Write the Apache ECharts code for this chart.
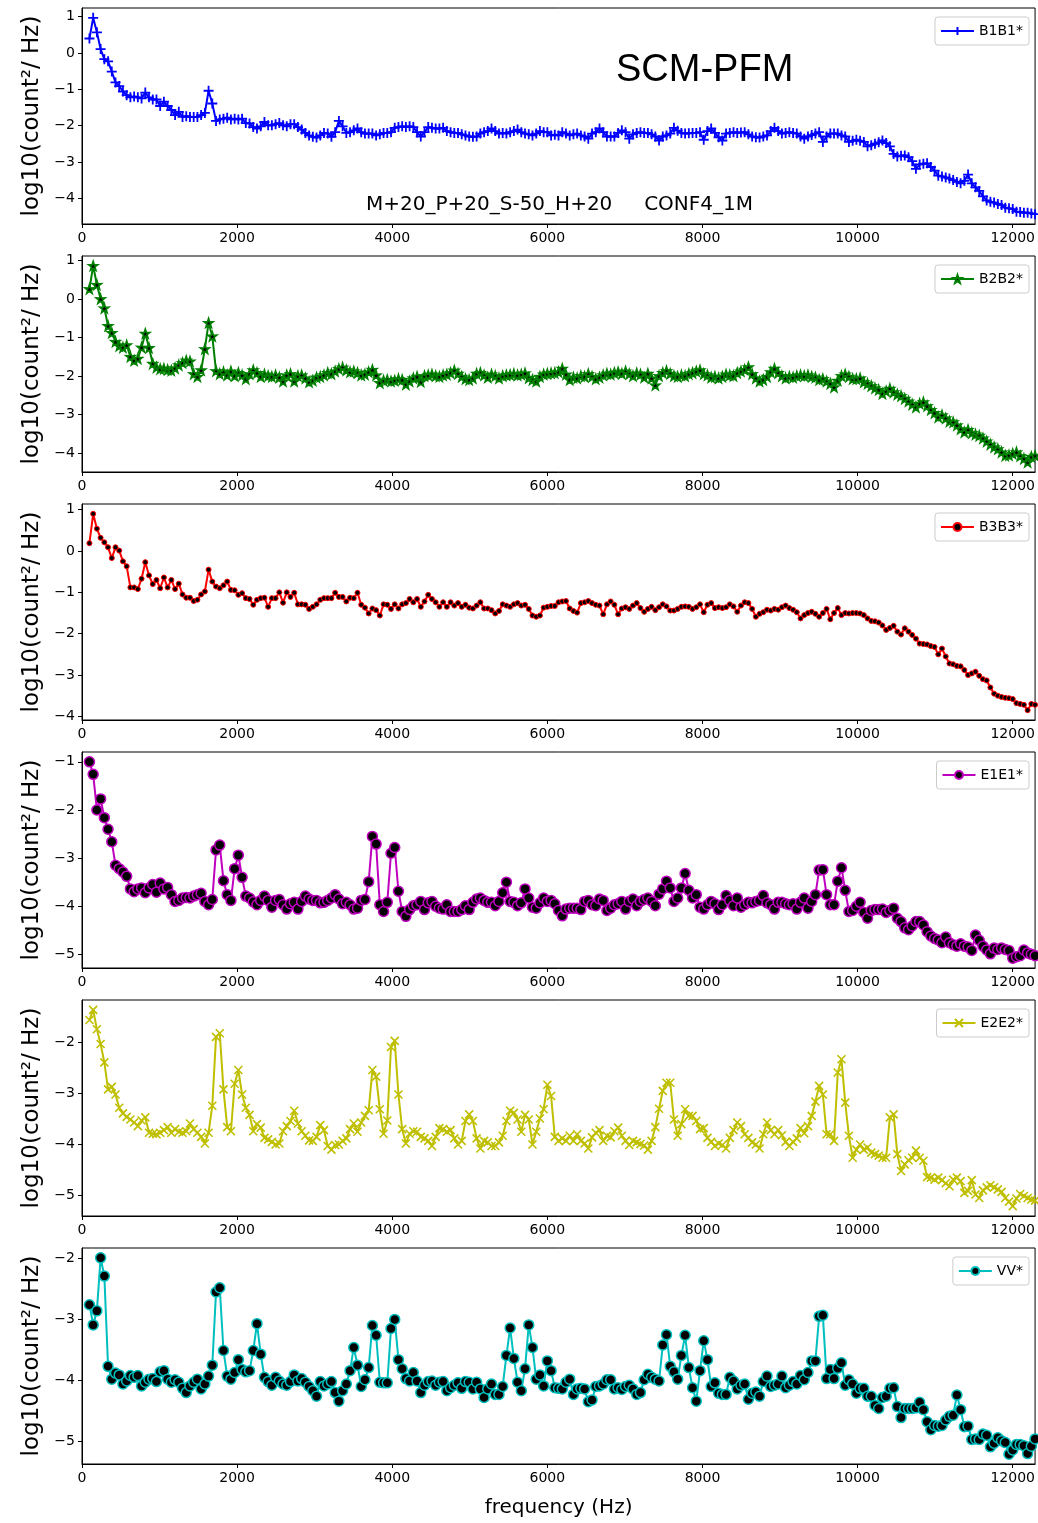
<!DOCTYPE html>
<html>
<head>
<meta charset="utf-8">
<script src="https://cdn.jsdelivr.net/npm/echarts@6/dist/echarts.min.js"></script>
<style>
  html, body { margin: 0; padding: 0; background: #ffffff; }
  #chart { width: 1038px; height: 1523px; }
</style>
</head>
<body>
<div id="chart"></div>
<script>
// Spectral bins: first bin centre and bin width (Hz), upper plot limit.
const FIRST_BIN_HZ = 96;
const BIN_WIDTH_HZ = 48;
const F_MAX = 12288;

const X_TICKS = [0, 2000, 4000, 6000, 8000, 10000, 12000];

// log10 power spectral densities, one value per bin.
const B1B1 = [
  0.40, 0.97, 0.57, 0.11, -0.17, -0.23, -0.51, -0.81, -0.91, -1.06,
  -1.16, -1.22, -1.20, -1.22, -1.25, -1.09, -1.22, -1.28, -1.28, -1.46,
  -1.34, -1.46, -1.57, -1.71, -1.62, -1.76, -1.74, -1.76, -1.76, -1.76,
  -1.71, -1.65, -1.04, -1.39, -1.87, -1.83, -1.81, -1.78, -1.83, -1.81,
  -1.83, -1.81, -1.93, -1.94, -2.04, -2.08, -2.02, -1.90, -1.99, -1.99,
  -1.96, -1.93, -1.99, -2.02, -1.96, -1.96, -2.04, -2.11, -2.20, -2.27,
  -2.31, -2.33, -2.27, -2.20, -2.22, -2.31, -2.18, -1.87, -2.02, -2.20,
  -2.18, -2.13, -2.08, -2.18, -2.22, -2.22, -2.22, -2.27, -2.24, -2.20,
  -2.20, -2.18, -2.06, -2.04, -2.02, -2.04, -2.02, -2.04, -2.18, -2.30,
  -2.18, -2.04, -2.06, -2.08, -2.08, -2.06, -2.15, -2.18, -2.20, -2.20,
  -2.24, -2.27, -2.30, -2.31, -2.30, -2.22, -2.18, -2.15, -2.08, -2.15,
  -2.22, -2.20, -2.22, -2.18, -2.15, -2.11, -2.18, -2.22, -2.24, -2.27,
  -2.22, -2.15, -2.18, -2.18, -2.27, -2.25, -2.27, -2.18, -2.22, -2.27,
  -2.24, -2.22, -2.27, -2.30, -2.36, -2.22, -2.18, -2.08, -2.18, -2.30,
  -2.30, -2.30, -2.20, -2.13, -2.18, -2.36, -2.24, -2.20, -2.18, -2.20,
  -2.20, -2.24, -2.30, -2.41, -2.30, -2.27, -2.22, -2.06, -2.14, -2.20,
  -2.22, -2.21, -2.20, -2.20, -2.18, -2.39, -2.15, -2.08, -2.20, -2.32,
  -2.41, -2.22, -2.20, -2.18, -2.20, -2.19, -2.18, -2.24, -2.30, -2.32,
  -2.33, -2.30, -2.27, -2.15, -2.06, -2.15, -2.22, -2.20, -2.18, -2.20,
  -2.22, -2.30, -2.36, -2.30, -2.26, -2.22, -2.18, -2.45, -2.30, -2.22,
  -2.22, -2.22, -2.27, -2.30, -2.45, -2.42, -2.39, -2.42, -2.45, -2.57,
  -2.54, -2.50, -2.46, -2.41, -2.48, -2.57, -2.78, -2.85, -2.83, -2.82,
  -2.87, -2.98, -3.19, -3.07, -3.05, -3.04, -3.14, -3.24, -3.38, -3.40,
  -3.43, -3.46, -3.50, -3.55, -3.59, -3.52, -3.35, -3.59, -3.70, -3.80,
  -3.95, -4.06, -4.10, -4.12, -4.16, -4.19, -4.26, -4.28, -4.30, -4.37,
  -4.38, -4.40, -4.40, -4.42, -4.44
];

const B2B2 = [
  0.26, 0.86, 0.37, 0.00, -0.24, -0.70, -0.88, -1.11, -1.22, -1.26,
  -1.20, -1.50, -1.60, -1.55, -1.26, -0.90, -1.27, -1.68, -1.78, -1.82,
  -1.81, -1.84, -1.86, -1.80, -1.72, -1.66, -1.60, -1.62, -1.95, -2.02,
  -1.85, -1.30, -0.62, -0.97, -1.87, -1.95, -1.90, -1.98, -1.88, -2.00,
  -1.92, -1.98, -2.08, -1.95, -1.85, -1.92, -2.02, -1.96, -2.00, -2.02,
  -1.98, -2.04, -2.14, -1.98, -1.95, -2.14, -2.00, -1.98, -2.06, -2.16,
  -2.12, -2.04, -2.02, -1.98, -1.92, -1.95, -1.88, -1.82, -1.78, -1.85,
  -1.90, -1.88, -1.92, -1.98, -1.96, -1.90, -1.84, -1.98, -2.18, -2.12,
  -2.10, -2.14, -2.12, -2.08, -2.10, -2.22, -2.14, -2.06, -2.02, -2.15,
  -2.00, -1.98, -1.96, -2.00, -2.02, -1.98, -1.96, -1.92, -1.86, -1.94,
  -2.02, -2.08, -2.10, -2.06, -1.94, -1.92, -1.98, -2.04, -1.96, -2.00,
  -2.06, -2.00, -1.98, -1.97, -1.95, -1.98, -1.96, -1.93, -2.05, -2.10,
  -2.14, -2.02, -1.96, -1.94, -1.93, -1.92, -1.90, -1.81, -1.96, -2.10,
  -2.04, -2.06, -2.00, -2.02, -1.95, -2.02, -2.08, -2.04, -1.98, -1.94,
  -1.96, -1.92, -1.90, -1.94, -1.88, -1.95, -2.00, -1.93, -1.96, -2.04,
  -1.94, -2.06, -2.24, -2.00, -1.92, -1.87, -1.94, -2.00, -2.02, -1.98,
  -2.00, -1.95, -1.92, -1.88, -1.85, -1.95, -1.98, -2.04, -2.02, -2.06,
  -2.02, -1.96, -1.98, -2.00, -1.92, -1.88, -1.84, -1.77, -1.95, -2.06,
  -2.14, -2.10, -2.02, -1.90, -1.81, -1.92, -2.00, -2.06, -2.02, -2.04,
  -2.00, -1.98, -2.00, -1.98, -2.02, -2.04, -2.10, -2.08, -2.14, -2.20,
  -2.29, -2.12, -2.00, -1.96, -2.02, -2.08, -2.08, -2.06, -2.16, -2.20,
  -2.26, -2.32, -2.36, -2.46, -2.40, -2.33, -2.42, -2.48, -2.52, -2.59,
  -2.66, -2.74, -2.81, -2.72, -2.68, -2.78, -2.88, -2.96, -3.07, -3.02,
  -3.10, -3.18, -3.20, -3.28, -3.38, -3.46, -3.40, -3.48, -3.52, -3.55,
  -3.62, -3.70, -3.78, -3.85, -3.90, -3.98, -4.07, -4.06, -4.02, -3.98,
  -4.08, -4.15, -4.24, -4.10, -4.07
];

const B3B3 = [
  0.19, 0.90, 0.54, 0.32, 0.21, 0.09, -0.17, 0.09, 0.01, -0.25,
  -0.37, -0.88, -0.88, -0.92, -0.67, -0.27, -0.59, -0.80, -0.70, -0.90,
  -0.64, -0.88, -0.70, -0.92, -0.79, -1.05, -1.13, -1.13, -1.21, -1.18,
  -1.05, -0.98, -0.45, -0.74, -0.86, -0.90, -0.83, -0.74, -0.94, -0.95,
  -1.06, -1.02, -1.14, -1.16, -1.30, -1.18, -1.14, -1.13, -1.35, -1.14,
  -1.14, -1.00, -1.25, -1.00, -1.11, -1.01, -1.29, -1.29, -1.30, -1.40,
  -1.35, -1.29, -1.18, -1.14, -1.14, -1.14, -1.01, -1.11, -1.11, -1.22,
  -1.13, -1.14, -1.01, -1.30, -1.37, -1.51, -1.39, -1.43, -1.56, -1.29,
  -1.30, -1.40, -1.29, -1.39, -1.29, -1.26, -1.16, -1.24, -1.16, -1.35,
  -1.22, -1.06, -1.16, -1.24, -1.35, -1.24, -1.35, -1.24, -1.32, -1.26,
  -1.35, -1.30, -1.37, -1.39, -1.32, -1.24, -1.39, -1.39, -1.43, -1.51,
  -1.45, -1.29, -1.32, -1.35, -1.29, -1.26, -1.32, -1.30, -1.40, -1.56,
  -1.59, -1.56, -1.37, -1.35, -1.33, -1.33, -1.24, -1.22, -1.21, -1.39,
  -1.45, -1.49, -1.26, -1.24, -1.21, -1.26, -1.30, -1.32, -1.53, -1.29,
  -1.22, -1.30, -1.53, -1.39, -1.36, -1.40, -1.32, -1.26, -1.38, -1.47,
  -1.40, -1.35, -1.43, -1.36, -1.29, -1.34, -1.44, -1.44, -1.40, -1.35,
  -1.34, -1.35, -1.40, -1.36, -1.29, -1.48, -1.30, -1.26, -1.38, -1.36,
  -1.38, -1.36, -1.29, -1.34, -1.47, -1.32, -1.24, -1.26, -1.40, -1.59,
  -1.52, -1.48, -1.42, -1.44, -1.40, -1.42, -1.36, -1.32, -1.38, -1.42,
  -1.48, -1.63, -1.55, -1.50, -1.47, -1.52, -1.59, -1.50, -1.40, -1.65,
  -1.50, -1.38, -1.55, -1.50, -1.51, -1.50, -1.50, -1.51, -1.55, -1.63,
  -1.69, -1.70, -1.73, -1.80, -1.91, -1.86, -1.81, -1.95, -2.02, -1.87,
  -1.95, -2.03, -2.12, -2.24, -2.25, -2.26, -2.30, -2.32, -2.50, -2.36,
  -2.55, -2.72, -2.74, -2.78, -2.79, -2.88, -3.00, -2.96, -2.92, -3.02,
  -3.10, -3.13, -3.30, -3.45, -3.50, -3.53, -3.55, -3.56, -3.58, -3.68,
  -3.70, -3.72, -3.85, -3.70, -3.72
];

const E1E1 = [
  -1.00, -1.26, -2.00, -1.77, -2.16, -2.40, -2.66, -3.15, -3.22, -3.29,
  -3.38, -3.64, -3.70, -3.64, -3.62, -3.72, -3.62, -3.55, -3.71, -3.52,
  -3.64, -3.61, -3.76, -3.90, -3.88, -3.83, -3.82, -3.83, -3.79, -3.76,
  -3.73, -3.90, -3.97, -3.86, -2.83, -2.73, -3.47, -3.76, -3.88, -3.22,
  -2.94, -3.40, -3.79, -3.83, -3.91, -3.97, -3.88, -3.79, -3.88, -4.02,
  -3.88, -3.86, -3.97, -4.06, -3.95, -3.92, -4.06, -3.90, -3.79, -3.85,
  -3.88, -3.88, -3.93, -3.92, -3.88, -3.83, -3.76, -3.85, -3.95, -3.92,
  -3.97, -4.06, -4.04, -3.88, -3.86, -3.49, -2.55, -2.71, -3.97, -4.11,
  -3.92, -2.90, -2.78, -3.69, -4.11, -4.21, -4.07, -3.99, -3.97, -3.90,
  -4.07, -3.93, -3.90, -4.00, -4.04, -4.06, -3.97, -4.11, -4.11, -4.11,
  -4.07, -3.99, -4.07, -3.92, -3.85, -3.83, -3.88, -3.92, -3.92, -3.99,
  -3.90, -3.72, -3.50, -3.90, -3.92, -3.99, -3.93, -3.64, -3.83, -4.02,
  -4.04, -3.93, -3.83, -3.90, -3.88, -3.95, -4.09, -4.20, -4.06, -4.04,
  -4.04, -4.04, -4.07, -3.90, -3.88, -3.97, -3.99, -3.85, -3.88, -4.09,
  -4.04, -3.97, -3.95, -3.90, -4.06, -3.90, -3.85, -3.99, -3.90, -3.86,
  -3.83, -3.90, -3.99, -3.75, -3.64, -3.48, -3.62, -3.90, -3.83, -3.62,
  -3.32, -3.67, -3.83, -3.76, -4.02, -4.06, -3.97, -3.90, -3.95, -4.07,
  -3.97, -3.78, -3.88, -3.99, -3.83, -4.02, -3.97, -3.92, -3.93, -3.90,
  -3.88, -3.78, -3.93, -3.97, -4.06, -3.92, -3.92, -3.95, -3.97, -3.95,
  -4.06, -3.92, -3.83, -4.04, -3.90, -3.76, -3.25, -3.24, -3.76, -3.97,
  -3.97, -3.48, -3.20, -3.67, -4.11, -4.09, -4.00, -3.92, -4.13, -4.25,
  -4.09, -4.07, -4.07, -4.06, -4.13, -4.09, -4.04, -4.25, -4.32, -4.45,
  -4.49, -4.41, -4.32, -4.32, -4.39, -4.53, -4.62, -4.67, -4.70, -4.76,
  -4.64, -4.76, -4.80, -4.83, -4.78, -4.83, -4.85, -4.92, -4.60, -4.71,
  -4.83, -4.91, -4.99, -4.87, -4.90, -4.87, -4.90, -4.92, -5.08, -5.05,
  -5.03, -4.91, -4.97, -5.00, -5.03
];

const E2E2 = [
  -1.56, -1.36, -1.74, -2.03, -2.39, -2.92, -2.87, -3.02, -3.28, -3.39,
  -3.46, -3.51, -3.57, -3.64, -3.53, -3.47, -3.77, -3.79, -3.80, -3.77,
  -3.72, -3.66, -3.77, -3.70, -3.75, -3.77, -3.74, -3.59, -3.70, -3.77,
  -3.85, -3.98, -3.77, -3.24, -1.89, -1.82, -2.92, -3.66, -3.74, -2.81,
  -2.54, -3.02, -3.28, -3.42, -3.74, -3.60, -3.67, -3.87, -3.90, -3.95,
  -4.00, -3.98, -3.74, -3.64, -3.54, -3.34, -3.59, -3.74, -3.83, -3.92,
  -3.93, -3.85, -3.62, -3.72, -4.03, -4.10, -4.01, -4.00, -3.93, -3.88,
  -3.70, -3.59, -3.75, -3.57, -3.44, -3.33, -2.54, -2.67, -3.31, -3.79,
  -3.53, -2.09, -1.97, -3.02, -3.70, -3.98, -3.79, -3.74, -3.75, -3.85,
  -3.88, -3.93, -4.03, -3.85, -3.68, -3.70, -3.75, -3.72, -3.88, -4.00,
  -3.93, -3.54, -3.41, -3.54, -3.88, -4.08, -3.93, -3.96, -4.03, -4.03,
  -3.96, -3.83, -3.54, -3.34, -3.38, -3.51, -3.75, -3.42, -3.51, -4.00,
  -3.75, -3.49, -3.31, -2.83, -3.05, -3.85, -3.93, -3.88, -3.93, -3.83,
  -3.93, -3.80, -3.93, -3.98, -4.08, -3.86, -3.77, -3.72, -3.93, -3.83,
  -3.86, -3.74, -3.67, -3.83, -3.93, -4.01, -3.93, -3.96, -3.99, -4.02,
  -4.10, -3.93, -3.66, -3.30, -2.95, -2.79, -2.79, -3.51, -3.83, -3.60,
  -3.31, -3.44, -3.44, -3.54, -3.70, -3.68, -3.87, -3.95, -4.03, -3.98,
  -4.01, -4.08, -3.87, -3.72, -3.57, -3.64, -3.80, -3.87, -3.96, -4.00,
  -4.08, -3.80, -3.57, -3.72, -3.80, -3.72, -3.82, -3.95, -4.03, -3.95,
  -3.88, -3.68, -3.78, -3.64, -3.44, -3.16, -2.85, -3.02, -3.80, -3.80,
  -3.93, -2.59, -2.33, -3.18, -3.83, -4.26, -4.10, -4.00, -4.10, -4.06,
  -4.16, -4.19, -4.22, -4.26, -4.26, -3.47, -3.41, -4.19, -4.52, -4.39,
  -4.31, -4.26, -4.12, -4.26, -4.32, -4.64, -4.65, -4.69, -4.65, -4.70,
  -4.76, -4.82, -4.69, -4.65, -4.72, -4.95, -4.91, -4.70, -4.98, -5.05,
  -4.90, -4.84, -4.80, -4.84, -4.88, -4.93, -5.05, -5.12, -5.21, -5.06,
  -4.97, -5.01, -5.05, -5.08, -5.10
];

const VV = [
  -2.76, -3.09, -2.86, -1.99, -2.29, -3.77, -3.98, -3.88, -3.91, -4.06,
  -4.01, -3.92, -3.95, -3.92, -4.09, -4.03, -3.98, -3.97, -4.02, -3.86,
  -3.84, -3.98, -4.03, -3.99, -4.03, -4.13, -4.20, -4.09, -4.03, -3.98,
  -4.14, -4.06, -3.93, -3.75, -2.55, -2.48, -3.51, -3.93, -3.98, -3.87,
  -3.66, -3.82, -3.86, -3.84, -3.51, -3.07, -3.57, -3.95, -4.02, -4.08,
  -3.95, -4.01, -4.06, -4.08, -4.02, -3.91, -4.01, -3.97, -4.03, -4.10,
  -4.17, -4.26, -4.02, -4.09, -4.06, -4.02, -4.20, -4.34, -4.17, -4.06,
  -3.84, -3.46, -3.75, -4.10, -3.99, -3.79, -3.10, -3.26, -4.03, -4.04,
  -4.04, -3.15, -3.00, -3.66, -3.81, -3.97, -4.01, -3.87, -4.01, -4.20,
  -4.08, -4.02, -4.01, -4.08, -4.03, -4.02, -4.17, -4.12, -4.08, -4.04,
  -4.13, -4.02, -4.03, -4.14, -4.03, -4.14, -4.28, -4.14, -4.06, -4.23,
  -4.23, -4.10, -3.59, -3.14, -3.64, -4.03, -4.17, -3.81, -3.09, -3.46,
  -3.98, -3.91, -4.09, -3.68, -3.84, -4.12, -4.13, -4.14, -4.03, -3.98,
  -4.23, -4.14, -4.13, -4.14, -4.35, -4.32, -4.10, -4.09, -4.06, -3.99,
  -3.99, -4.14, -4.12, -4.15, -4.10, -4.08, -4.14, -4.23, -4.20, -3.99,
  -3.90, -3.95, -3.98, -4.01, -3.42, -3.25, -3.77, -3.86, -3.98, -3.59,
  -3.26, -3.79, -4.12, -4.34, -3.84, -3.35, -3.66, -4.10, -4.04, -4.21,
  -4.23, -4.23, -3.95, -4.01, -4.14, -4.08, -4.06, -4.31, -4.21, -4.19,
  -4.26, -4.02, -3.93, -4.10, -4.08, -4.06, -3.93, -4.12, -4.08, -4.02,
  -4.06, -3.92, -3.99, -3.87, -3.68, -3.68, -2.95, -2.93, -3.97, -3.82,
  -3.97, -3.80, -3.71, -4.08, -3.99, -4.06, -4.21, -4.13, -4.13, -4.26,
  -4.26, -4.41, -4.46, -4.28, -4.26, -4.13, -4.12, -4.43, -4.61, -4.46,
  -4.46, -4.46, -4.45, -4.36, -4.48, -4.68, -4.81, -4.74, -4.75, -4.74,
  -4.65, -4.59, -4.57, -4.24, -4.48, -4.76, -4.75, -4.97, -4.96, -4.97,
  -4.88, -4.90, -5.09, -5.03, -4.94, -4.99, -5.02, -5.21, -5.14, -5.05,
  -5.05, -5.07, -5.20, -5.08, -4.96
];

// y tick labels of each panel
const Y_TICKS_B1B1 = [1, 0, -1, -2, -3, -4];
const Y_TICKS_B2B2 = [1, 0, -1, -2, -3, -4];
const Y_TICKS_B3B3 = [1, 0, -1, -2, -3, -4];
const Y_TICKS_E1E1 = [-1, -2, -3, -4, -5];
const Y_TICKS_E2E2 = [-2, -3, -4, -5];
const Y_TICKS_VV = [-2, -3, -4, -5];

const SERIES_NAMES = ['B1B1*', 'B2B2*', 'B3B3*', 'E1E1*', 'E2E2*', 'VV*'];

// marker shapes ('+' and 'x' are stroked, the star is filled)
const PLUS_PATH = 'path://M5,0L5,10M0,5L10,5';
const CROSS_PATH = 'path://M0,0L10,10M10,0L0,10';
const STAR_PATH = 'path://M50,0L61.8,35.3L97.6,34.5L69.1,56.2L79.4,90.5L50,70L20.6,90.5L30.9,56.2L2.4,34.5L38.2,35.3Z';

const FONT = 'DejaVu Sans';

const PANELS = [
  { name: SERIES_NAMES[0], values: B1B1, ticks: Y_TICKS_B1B1, color: '#0000ff',
    symbol: PLUS_PATH, symbolSize: 10, fill: 'rgba(0,0,0,0)', border: 1.8 },
  { name: SERIES_NAMES[1], values: B2B2, ticks: Y_TICKS_B2B2, color: '#008000',
    symbol: STAR_PATH, symbolSize: 9, fill: '#000000', border: 1.6 },
  { name: SERIES_NAMES[2], values: B3B3, ticks: Y_TICKS_B3B3, color: '#ff0000',
    symbol: 'circle', symbolSize: 5, fill: '#000000', border: 1 },
  { name: SERIES_NAMES[3], values: E1E1, ticks: Y_TICKS_E1E1, color: '#bf00bf',
    symbol: 'circle', symbolSize: 10, fill: '#000000', border: 1.5 },
  { name: SERIES_NAMES[4], values: E2E2, ticks: Y_TICKS_E2E2, color: '#bfbf00',
    symbol: CROSS_PATH, symbolSize: 8, fill: 'rgba(0,0,0,0)', border: 1.6 },
  { name: SERIES_NAMES[5], values: VV, ticks: Y_TICKS_VV, color: '#00bfbf',
    symbol: 'circle', symbolSize: 10, fill: '#000000', border: 1.5 }
];

const PLOT_LEFT = 82;
const PLOT_RIGHT = 2;
const PLOT_TOP0 = 8;
const PLOT_STEP = 248;
const PLOT_HEIGHT = 216;

const minusSign = v => (v < 0 ? '\u2212' + Math.abs(v) : String(v));

const grids = [], xAxes = [], yAxes = [], seriesList = [], legends = [];

PANELS.forEach((p, k) => {
  const top = PLOT_TOP0 + k * PLOT_STEP;
  const freqs = p.values.map((_, i) => FIRST_BIN_HZ + BIN_WIDTH_HZ * i);
  const lo = Math.min(...p.values), hi = Math.max(...p.values);
  const pad = 0.05 * (hi - lo);

  grids.push({
    left: PLOT_LEFT, right: PLOT_RIGHT, top: top, height: PLOT_HEIGHT,
    show: true, borderColor: '#000000', borderWidth: 1, backgroundColor: '#ffffff'
  });

  const last = k === PANELS.length - 1;
  xAxes.push({
    type: 'value', gridIndex: k, min: 0, max: F_MAX,
    axisLine: { show: true, onZero: false, lineStyle: { color: '#000000', width: 1 } },
    axisTick: { show: true, length: 4, customValues: X_TICKS, lineStyle: { color: '#000000' } },
    axisLabel: { customValues: X_TICKS, formatter: v => String(v), fontFamily: FONT,
                 fontSize: 14, color: '#000000', margin: 7 },
    splitLine: { show: false },
    name: last ? 'frequency (Hz)' : '',
    nameLocation: 'middle', nameGap: 34,
    nameTextStyle: { fontFamily: FONT, fontSize: 20, color: '#000000' }
  });

  yAxes.push({
    type: 'value', gridIndex: k, min: lo - pad, max: hi + pad,
    axisLine: { show: true, lineStyle: { color: '#000000', width: 1 } },
    axisTick: { show: true, length: 4, customValues: p.ticks, lineStyle: { color: '#000000' } },
    axisLabel: { customValues: p.ticks, formatter: minusSign, fontFamily: FONT, fontSize: 14,
                 color: '#000000', margin: 7 },
    splitLine: { show: false },
    name: 'log10(count\u00b2/ Hz)',
    nameLocation: 'middle', nameRotate: 90, nameGap: 34,
    nameTextStyle: { fontFamily: FONT, fontSize: 23, color: '#000000' }
  });

  seriesList.push({
    name: p.name, type: 'line', xAxisIndex: k, yAxisIndex: k,
    data: freqs.map((f, i) => [f, p.values[i]]),
    showSymbol: true, showAllSymbol: true,
    symbol: p.symbol, symbolSize: p.symbolSize,
    lineStyle: { color: p.color, width: 2 },
    itemStyle: { color: p.fill, borderColor: p.color, borderWidth: p.border },
    emphasis: { disabled: true },
    clip: true, z: 2
  });

  legends.push({
    data: [p.name], right: 9, top: top + 9,
    itemWidth: 33, itemHeight: 10, itemGap: 0,
    padding: [7, 6, 7, 5],
    backgroundColor: 'rgba(255,255,255,0.8)',
    borderColor: '#cccccc', borderWidth: 1, borderRadius: 3,
    selectedMode: false,
    textStyle: { fontFamily: FONT, fontSize: 14, color: '#000000' }
  });
});

const chart = echarts.init(document.getElementById('chart'), null, { renderer: 'canvas' });
chart.setOption({
  animation: false,
  backgroundColor: '#ffffff',
  grid: grids,
  xAxis: xAxes,
  yAxis: yAxes,
  legend: legends,
  series: seriesList,
  graphic: [
    {
      type: 'text', left: 616, top: 52, z: 10,
      style: { text: 'SCM-PFM', fontFamily: 'Liberation Sans', fontSize: 38, fill: '#000000' }
    },
    {
      type: 'text', left: 366, top: 195, z: 10,
      style: { text: 'M+20_P+20_S-50_H+20     CONF4_1M', fontFamily: FONT, fontSize: 20, fill: '#000000' }
    }
  ]
});
</script>
</body>
</html>
